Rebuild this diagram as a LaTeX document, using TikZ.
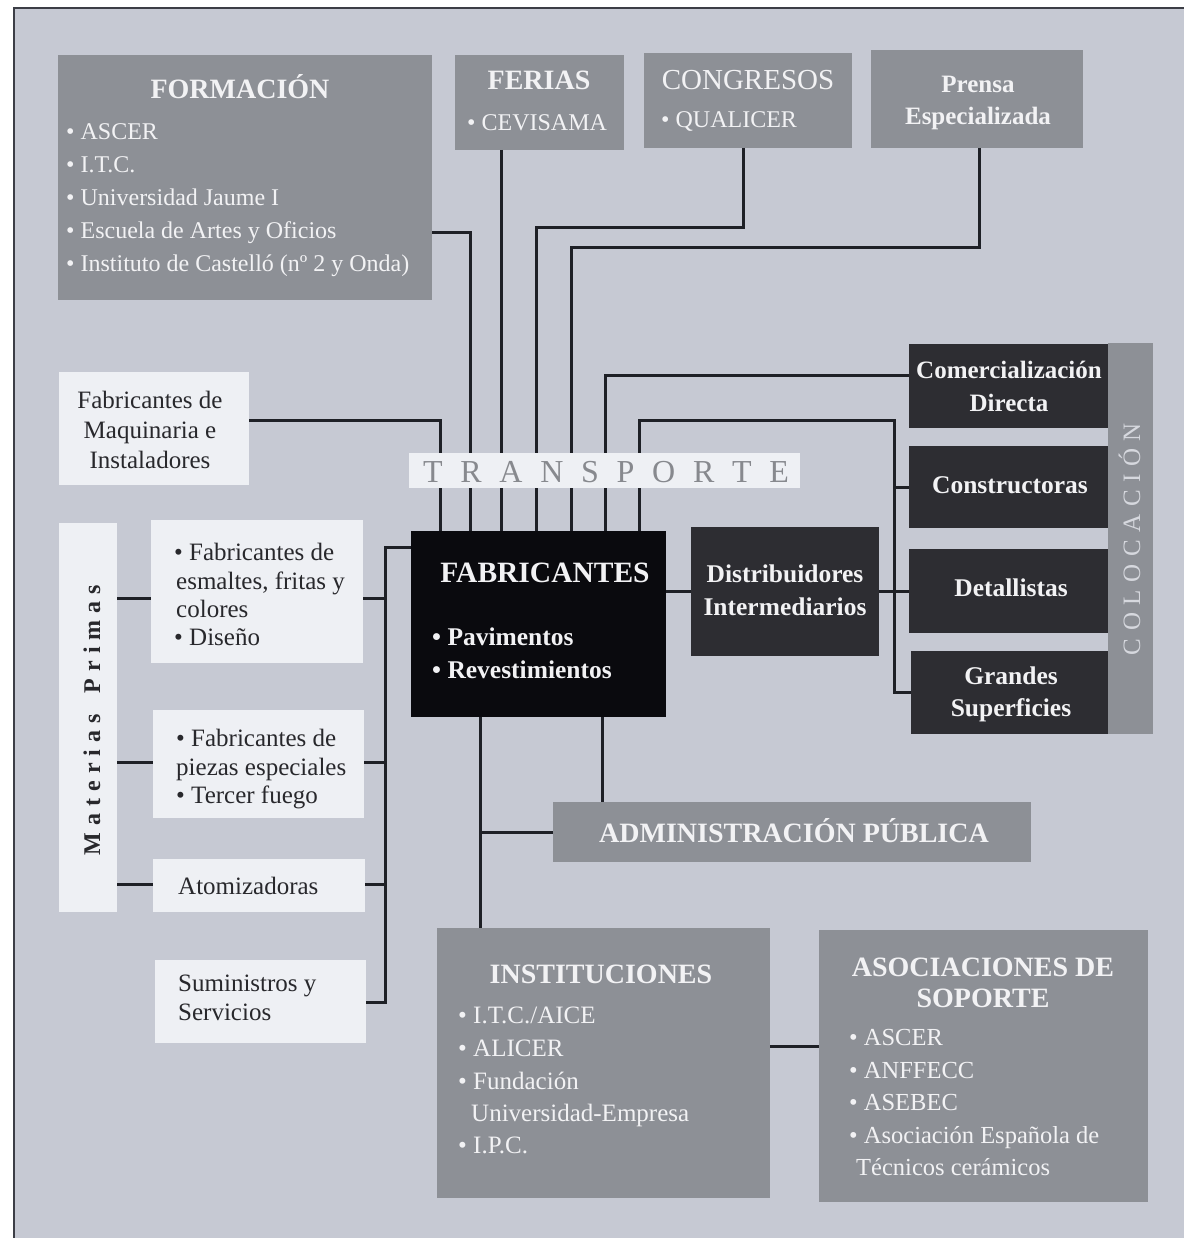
\documentclass[tikz,border=0pt]{standalone}
\usepackage{fontspec}
\setmainfont{Liberation Serif}
\usetikzlibrary{fit}
\definecolor{bgc}{RGB}{198,201,211}
\definecolor{midbox}{RGB}{141,144,150}
\definecolor{darkbox}{RGB}{45,45,50}
\definecolor{blackbox}{RGB}{10,10,14}
\definecolor{whitebox}{RGB}{238,240,244}
\definecolor{linec}{RGB}{30,32,38}
\definecolor{txtlight}{RGB}{242,242,244}
\definecolor{txtdark}{RGB}{40,40,44}
\definecolor{framec}{RGB}{60,62,70}
\newcommand\myfs[1]{\fontsize{#1}{#1}\selectfont}
\begin{document}
\begin{tikzpicture}[x=1pt,y=-1pt,
  bx/.style={inner sep=0pt, outer sep=0pt, draw=none},
  midb/.style={bx, fill=midbox},
  darkb/.style={bx, fill=darkbox},
  blackb/.style={bx, fill=blackbox},
  whiteb/.style={bx, fill=whitebox},
  ln/.style={draw=linec, line width=3pt},
  tl/.style={inner sep=0pt, text=txtlight},
  td/.style={inner sep=0pt, text=txtdark},
]
\useasboundingbox (0,0) rectangle (1187,1238);
\fill[white] (0,0) rectangle (1187,1238);
\fill[bgc] (13,8) rectangle (1184,1238);
\draw[framec, line width=2.5pt] (14,1238) -- (14,8) -- (1184,8);

% boxes
\node[midb, fit={(58,55) (432,300)}] (for) {};
\node[midb, fit={(455,55) (624,150)}] (fer) {};
\node[midb, fit={(644,53) (852,148)}] (con) {};
\node[midb, fit={(871,50) (1083,148)}] (pre) {};
\node[whiteb, fit={(59,372) (249,485)}] (maq) {};
\node[whiteb, fit={(59,523) (117,912)}] (mat) {};
\node[whiteb, fit={(151,520) (363,663)}] (esm) {};
\node[whiteb, fit={(153,710) (364,818)}] (pie) {};
\node[whiteb, fit={(153,859) (365,912)}] (ato) {};
\node[whiteb, fit={(155,960) (366,1043)}] (sum) {};
\node[blackb, fit={(411,531) (666,717)}] (fab) {};
\node[darkb, fit={(691,527) (879,656)}] (dis) {};
\node[darkb, fit={(909,344) (1108,428)}] (com) {};
\node[darkb, fit={(909,446) (1108,528)}] (cns) {};
\node[darkb, fit={(909,549) (1108,633)}] (det) {};
\node[darkb, fit={(911,651) (1108,734)}] (gra) {};
\node[midb, fit={(1108,343) (1153,734)}] (col) {};
\node[midb, fit={(553,802) (1031,862)}] (adm) {};
\node[midb, fit={(437,928) (770,1198)}] (ins) {};
\node[midb, fit={(819,930) (1148,1202)}] (aso) {};

% junction coordinates
\coordinate (jMaq) at (440,420);
\coordinate (jFor) at (470,233);
\coordinate (jFer) at (501,0);
\coordinate (jCon) at (743,228);
\coordinate (jCon2) at (536,228);
\coordinate (jPre) at (979,248);
\coordinate (jPre2) at (571,248);
\coordinate (jCom) at (605,375);
\coordinate (jL) at (639,420);
\coordinate (jR) at (894,420);
\coordinate (jRb) at (894,692);
\coordinate (jD) at (0,591);
\coordinate (jLT) at (385,547);
\coordinate (jLB) at (385,1002);
\coordinate (jE) at (0,598);
\coordinate (jP) at (0,762);
\coordinate (jA) at (0,884);
\coordinate (jB1) at (480,832);
\coordinate (jB2) at (602,0);
\coordinate (jIA) at (0,1046);

% connectors
\draw[ln] (maq.east |- jMaq) -| (fab.north -| jMaq);
\draw[ln] (for.east |- jFor) -| (fab.north -| jFor);
\draw[ln] (fer.south -| jFer) -- (fab.north -| jFer);
\draw[ln] (con.south -| jCon) -- (jCon) -- (jCon2) -- (fab.north -| jCon2);
\draw[ln] (pre.south -| jPre) -- (jPre) -- (jPre2) -- (fab.north -| jPre2);
\draw[ln] (com.west |- jCom) -- (jCom) -- (fab.north -| jCom);
\draw[ln] (fab.north -| jL) -- (jL) -- (jR) -- (jRb) -- (gra.west |- jRb);
\draw[ln] (jR |- cns.west) -- (cns.west);
\draw[ln] (fab.east |- jD) -- (dis.west |- jD);
\draw[ln] (dis.east |- jD) -- (det.west |- jD);
\draw[ln] (fab.west |- jLT) -- (jLT) -- (jLB) -- (sum.east |- jLB);
\draw[ln] (esm.east |- jE) -- (jLT |- jE);
\draw[ln] (pie.east |- jP) -- (jLT |- jP);
\draw[ln] (ato.east |- jA) -- (jLT |- jA);
\draw[ln] (mat.east |- jE) -- (esm.west |- jE);
\draw[ln] (mat.east |- jP) -- (pie.west |- jP);
\draw[ln] (mat.east |- jA) -- (ato.west |- jA);
\draw[ln] (fab.south -| jB1) -- (ins.north -| jB1);
\draw[ln] (jB1) -- (adm.west |- jB1);
\draw[ln] (fab.south -| jB2) -- (adm.north -| jB2);
\draw[ln] (ins.east |- jIA) -- (aso.west |- jIA);

% transport band
\node[whiteb, fit={(409,453) (800,488)}] (tra) {};
\node[inner sep=0pt, text={rgb,255:red,135;green,137;blue,142}, font=\myfs{32}, anchor=base] (traT) at (606,482)
  {\makebox[366pt][s]{T\hfil R\hfil A\hfil N\hfil S\hfil P\hfil O\hfil R\hfil T\hfil E}};

% texts: FORMACION
\node[tl, font=\myfs{28}\bfseries, anchor=base] (forT) at (240,99) {FORMACIÓN};
\foreach \t [count=\i] in {{ASCER},{I.T.C.},{Universidad Jaume I},{Escuela de Artes y Oficios},{Instituto de Castelló (nº 2 y Onda)}}
  \node[tl, font=\myfs{24}, anchor=base west] (forI\i) at (66,{140+(\i-1)*33}) {• \t};

\node[tl, font=\myfs{28}\bfseries, anchor=base] (ferT) at (539,90) {FERIAS};
\node[tl, font=\myfs{24}, anchor=base west] (ferI) at (467,131) {• CEVISAMA};
\node[tl, font=\myfs{29}, anchor=base] (conT) at (748,90) {CONGRESOS};
\node[tl, font=\myfs{24}, anchor=base west] (conI) at (661,128) {• QUALICER};
\node[tl, font=\myfs{25}\bfseries, anchor=base] (preT1) at (978,93) {Prensa};
\node[tl, font=\myfs{25}\bfseries, anchor=base] (preT2) at (978,125) {Especializada};

% white boxes
\node[td, font=\myfs{25}, anchor=base] (maqT1) at (150,408) {Fabricantes de};
\node[td, font=\myfs{25}, anchor=base] (maqT2) at (150,438) {Maquinaria e};
\node[td, font=\myfs{25}, anchor=base] (maqT3) at (150,468) {Instaladores};

\node[td, font=\myfs{24}\bfseries, anchor=base, rotate=90] (matT) at (100,720)
  {\makebox[270pt][s]{M\hfil a\hfil t\hfil e\hfil r\hfil i\hfil a\hfil s\hfil\hfil\hfil P\hfil r\hfil i\hfil m\hfil a\hfil s}};

\node[td, font=\myfs{25}, anchor=base west] (esmT1) at (174,560) {• Fabricantes de};
\node[td, font=\myfs{25}, anchor=base west] (esmT2) at (176,589) {esmaltes, fritas y};
\node[td, font=\myfs{25}, anchor=base west] (esmT3) at (176,617) {colores};
\node[td, font=\myfs{25}, anchor=base west] (esmT4) at (174,645) {• Diseño};

\node[td, font=\myfs{25}, anchor=base west] (pieT1) at (176,746) {• Fabricantes de};
\node[td, font=\myfs{25}, anchor=base west] (pieT2) at (176,775) {piezas especiales};
\node[td, font=\myfs{25}, anchor=base west] (pieT3) at (176,803) {• Tercer fuego};

\node[td, font=\myfs{25}, anchor=base west] (atoT) at (178,894) {Atomizadoras};

\node[td, font=\myfs{25}, anchor=base west] (sumT1) at (178,991) {Suministros y};
\node[td, font=\myfs{25}, anchor=base west] (sumT2) at (178,1020) {Servicios};

% FABRICANTES
\node[tl, font=\myfs{29.5}\bfseries, anchor=base] (fabT) at (545,582) {FABRICANTES};
\node[tl, font=\myfs{25.5}\bfseries, anchor=base west] (fabI1) at (432,645) {• Pavimentos};
\node[tl, font=\myfs{25.5}\bfseries, anchor=base west] (fabI2) at (432,678) {• Revestimientos};

\node[tl, font=\myfs{25.5}\bfseries, anchor=base] (disT1) at (785,582) {Distribuidores};
\node[tl, font=\myfs{25.5}\bfseries, anchor=base] (disT2) at (785,615) {Intermediarios};

\node[tl, font=\myfs{25}\bfseries, anchor=base] (comT1) at (1009,378) {Comercialización};
\node[tl, font=\myfs{25}\bfseries, anchor=base] (comT2) at (1009,411) {Directa};
\node[tl, font=\myfs{25.5}\bfseries, anchor=base] (cnsT) at (1010,493) {Constructoras};
\node[tl, font=\myfs{25.5}\bfseries, anchor=base] (detT) at (1011,596) {Detallistas};
\node[tl, font=\myfs{25.5}\bfseries, anchor=base] (graT1) at (1011,684) {Grandes};
\node[tl, font=\myfs{25.5}\bfseries, anchor=base] (graT2) at (1011,716) {Superficies};

\node[inner sep=0pt, text={rgb,255:red,214;green,216;blue,222}, font=\myfs{25}, anchor=base, rotate=90] (colT) at (1140,539)
  {\makebox[232pt][s]{C\hfil O\hfil L\hfil O\hfil C\hfil A\hfil C\hfil I\hfil Ó\hfil N}};

% ADMINISTRACION
\node[tl, font=\myfs{28}\bfseries, anchor=base] (admT) at (794,842) {ADMINISTRACIÓN PÚBLICA};

% INSTITUCIONES
\node[tl, font=\myfs{28}\bfseries, anchor=base] (insT) at (601,983) {INSTITUCIONES};
\node[tl, font=\myfs{25}, anchor=base west] (insI1) at (458,1023) {• I.T.C./AICE};
\node[tl, font=\myfs{25}, anchor=base west] (insI2) at (458,1056) {• ALICER};
\node[tl, font=\myfs{25}, anchor=base west] (insI3) at (458,1089) {• Fundación};
\node[tl, font=\myfs{25}, anchor=base west] (insI4) at (471,1121) {Universidad-Empresa};
\node[tl, font=\myfs{25}, anchor=base west] (insI5) at (458,1153) {• I.P.C.};

% ASOCIACIONES
\node[tl, font=\myfs{28}\bfseries, anchor=base] (asoT1) at (983,976) {ASOCIACIONES DE};
\node[tl, font=\myfs{28}\bfseries, anchor=base] (asoT2) at (983,1007) {SOPORTE};
\node[tl, font=\myfs{24.5}, anchor=base west] (asoI1) at (849,1045) {• ASCER};
\node[tl, font=\myfs{24.5}, anchor=base west] (asoI2) at (849,1078) {• ANFFECC};
\node[tl, font=\myfs{24.5}, anchor=base west] (asoI3) at (849,1110) {• ASEBEC};
\node[tl, font=\myfs{24.5}, anchor=base west] (asoI4) at (849,1143) {• Asociación Española de};
\node[tl, font=\myfs{24.5}, anchor=base west] (asoI5) at (856,1175) {Técnicos cerámicos};
\end{tikzpicture}
\end{document}
